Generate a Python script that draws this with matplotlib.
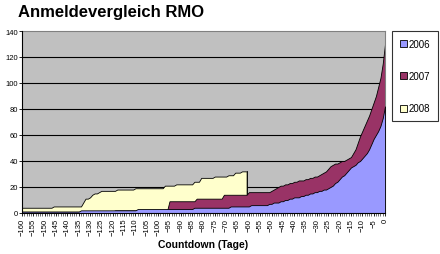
import numpy as np
import matplotlib
matplotlib.use("Agg")
import matplotlib.pyplot as plt
from matplotlib.patches import Patch

plt.rcParams['font.family'] = ['Liberation Sans', 'DejaVu Sans']

# countdown days -160 .. 0
days = list(range(-160, 1))

# cumulative registrations per day
reg_2006 = ([1] * 26 + [2] * 25 + [3] * 25 + [4] * 16 + [5] * 9 + [6] * 8 +
            [7, 7, 8, 8, 8, 9, 9, 10, 10, 11,
             11, 12, 12, 12, 13, 13, 14, 14, 15, 15, 16, 16,
             17, 17, 18, 18, 19, 20, 21, 23, 24, 26,
             28, 29, 31, 33, 35, 36, 37, 39, 40, 42,
             44, 46, 49, 53, 57, 60, 63, 67, 73, 82])

reg_2007 = ([1] * 41 + [2] * 24 + [9] * 12 + [11] * 12 + [14] * 11 + [16] * 10 +
            [17, 18, 19, 20, 21, 21,
             22, 22, 23, 23, 24, 24, 25, 25, 25, 26,
             26, 27, 27, 28, 28, 29, 30, 31, 32, 34,
             36, 37, 38, 38, 39, 40, 40, 41, 42, 43,
             46, 49, 54, 59, 63, 67, 71, 75, 80, 85,
             90, 97, 104, 115, 130])

# 2008 only up to day -61
reg_2008 = ([4] * 14 + [5] * 13 +
            [8, 11, 11, 12, 14, 15, 15, 16, 17, 17] +
            [17] * 5 + [18] * 8 + [19] * 13 + [21] * 5 + [22] * 8 +
            [24] * 3 + [27] * 6 + [28] * 6 + [29] * 3 + [31] * 3 + [32] * 3)

series = [("2006", reg_2006, "#9999FF", 3),
          ("2007", reg_2007, "#993366", 2),
          ("2008", reg_2008, "#FFFFCC", 1)]

fig = plt.figure(figsize=(4.4, 2.55), dpi=100)
ax = fig.add_axes([0.05, 0.161, 0.825, 0.7135])
ax.set_facecolor("#C0C0C0")

for name, vals, col, z in series:
    x = days[:len(vals)]
    ax.fill_between(x, 0, vals, facecolor=col, edgecolor="#000000",
                    linewidth=0.6, zorder=z)
    if len(vals) < len(days):
        # close the right side of the truncated area
        ax.plot([x[-1], x[-1]], [0, vals[-1]], color="#000000", lw=0.6, zorder=z)

ax.set_xlim(-160, 0)
ax.set_ylim(0, 140)
ax.set_yticks(range(0, 141, 20))
ax.set_xticks(range(-160, 1, 5))
ax.set_xticks(days, minor=True)
ax.tick_params(axis="y", labelsize=5.5, length=2, width=0.6, pad=1)
ax.tick_params(axis="x", which="major", labelsize=5.5, length=2.5, width=0.6,
               pad=1, labelrotation=90)
ax.tick_params(axis="x", which="minor", length=2, width=0.4)
for y in range(20, 140, 20):
    ax.axhline(y, color="#000000", lw=0.8, zorder=0.5)

for s in ["left", "bottom"]:
    ax.spines[s].set_color("#000000")
    ax.spines[s].set_linewidth(0.8)
    ax.spines[s].set_zorder(5)
for s in ["top", "right"]:
    ax.spines[s].set_color("#808080")
    ax.spines[s].set_linewidth(0.8)

ax.set_xlabel("Countdown (Tage)", fontsize=7.5, fontweight="bold", labelpad=3)
fig.text(18 / 440, 1 - 13 / 255, "Anmeldevergleich RMO", fontsize=12,
         fontweight="bold", va="center", ha="left")

handles = [Patch(facecolor=c, edgecolor="#000000", linewidth=0.6, label=n)
           for n, v, c, z in series]
leg = fig.legend(handles=handles, loc="upper left",
                 bbox_to_anchor=(392 / 440, 1 - 32 / 255), fontsize=7,
                 frameon=True, fancybox=False, edgecolor="#000000",
                 handlelength=0.7, handleheight=0.7, handletextpad=0.2,
                 labelspacing=2.3, borderpad=0.8, borderaxespad=0)
leg.get_frame().set_linewidth(0.8)

fig.savefig("out.png", dpi=100)
